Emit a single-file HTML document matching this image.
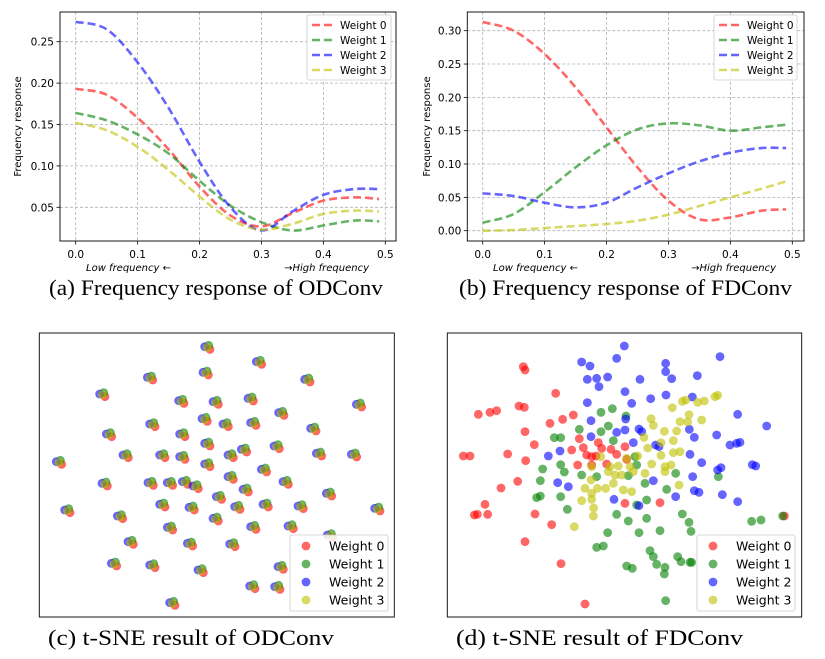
<!DOCTYPE html>
<html><head><meta charset="utf-8"><style>
body{margin:0;background:#fff;}
svg{display:block;font-family:"DejaVu Sans","Liberation Sans",sans-serif;}
</style></head><body>
<svg id="fig" width="825" height="659" viewBox="0 0 825 659" xmlns="http://www.w3.org/2000/svg"></svg>
<script>
// ---- line chart data ----
const freqX = [0,0.05,0.1,0.15,0.2,0.25,0.3,0.35,0.4,0.45,0.49];
const odW0 = [0.193,0.186,0.158,0.12,0.075,0.04,0.027,0.043,0.058,0.062,0.06];
const odW1 = [0.164,0.155,0.138,0.115,0.082,0.052,0.032,0.022,0.028,0.034,0.033];
const odW2 = [0.274,0.265,0.225,0.17,0.105,0.05,0.022,0.045,0.065,0.072,0.072];
const odW3 = [0.152,0.143,0.123,0.095,0.063,0.035,0.023,0.03,0.042,0.046,0.045];
const fdW0 = [0.313,0.30,0.265,0.215,0.155,0.095,0.045,0.017,0.02,0.03,0.032];
const fdW1 = [0.012,0.025,0.058,0.095,0.128,0.152,0.161,0.158,0.150,0.155,0.159];
const fdW2 = [0.056,0.052,0.042,0.035,0.042,0.065,0.086,0.104,0.117,0.124,0.124];
const fdW3 = [0,0.001,0.004,0.007,0.01,0.015,0.024,0.037,0.05,0.063,0.074];
const xTicks = [0,0.1,0.2,0.3,0.4,0.5];
const odYTicks = [0.05,0.10,0.15,0.20,0.25];
const fdYTicks = [0,0.05,0.10,0.15,0.20,0.25,0.30];
const weightNames = ["Weight 0","Weight 1","Weight 2","Weight 3"];
// ---- t-SNE data (arbitrary embedding units) ----
const odClusters = [[530,80],[685,125],[525,157],[358,172],[830,178],[215,222],[452,242],[555,245],[660,235],[985,253],[752,278],[365,312],[522,296],[585,312],[668,308],[848,325],[235,342],[455,342],[530,370],[640,388],[738,378],[865,400],[970,403],[85,425],[285,405],[395,405],[455,410],[530,432],[600,405],[700,448],[222,490],[360,488],[418,488],[463,485],[495,498],[600,470],[645,508],[765,485],[895,520],[565,530],[110,570],[268,588],[395,553],[483,562],[620,560],[705,553],[810,558],[1040,565],[418,622],[555,595],[668,620],[780,618],[898,645],[300,665],[478,670],[605,672],[250,730],[365,735],[510,750],[750,740],[665,798],[740,800],[425,848]];
const odOffW0 = [10,8]; const odOffW1 = [6,-4]; const odOffW2 = [-6,0]; const odOffW3 = [2,2];
const fdW0pts = [[265,140],[270,150],[362,220],[130,283],[165,277],[185,272],[252,258],[268,262],[85,408],[105,408],[218,402],[272,422],[298,374],[270,335],[345,310],[383,298],[415,285],[433,356],[410,390],[445,383],[455,405],[428,435],[470,435],[490,368],[500,385],[483,408],[515,432],[528,388],[545,403],[570,380],[575,418],[248,484],[198,504],[150,553],[118,585],[127,583],[158,583],[300,582],[350,614],[270,665],[378,731],[450,852],[570,550],[675,548],[470,410],[1048,588]];
const fdW1pts = [[498,277],[532,266],[573,288],[433,328],[498,335],[520,318],[535,362],[358,353],[377,353],[377,434],[388,456],[323,447],[316,482],[305,533],[316,528],[377,530],[397,568],[440,465],[485,470],[580,467],[605,435],[630,490],[600,410],[635,540],[605,555],[545,583],[580,603],[635,595],[612,638],[675,632],[695,508],[722,460],[742,582],[762,607],[768,634],[850,470],[518,638],[485,682],[505,678],[645,692],[655,710],[665,733],[690,742],[688,762],[728,710],[738,725],[765,727],[770,727],[575,738],[592,745],[692,842],[950,604],[978,600],[1043,588]];
const fdW2pts = [[568,78],[440,126],[465,138],[545,115],[692,130],[692,155],[710,176],[855,110],[787,167],[457,178],[485,175],[518,171],[492,200],[615,178],[570,215],[457,248],[590,250],[647,236],[693,225],[772,231],[572,297],[468,302],[545,337],[570,330],[612,327],[620,335],[468,350],[375,393],[340,408],[595,368],[662,375],[672,380],[763,328],[778,352],[845,345],[885,375],[905,370],[915,367],[908,283],[995,318],[765,403],[800,428],[848,450],[858,443],[952,434],[962,438],[773,470],[655,482],[368,488],[400,500],[537,538],[612,557],[722,530],[778,512],[792,517],[862,524],[908,545]];
const fdW3pts = [[742,244],[752,240],[788,247],[808,243],[840,230],[848,226],[712,263],[762,284],[735,305],[758,306],[800,300],[648,296],[655,316],[688,334],[725,333],[627,352],[638,384],[678,368],[715,362],[715,398],[735,395],[678,406],[608,408],[575,415],[650,432],[690,440],[708,435],[690,455],[470,440],[497,410],[525,440],[550,438],[520,455],[540,465],[585,440],[595,455],[630,460],[468,480],[487,505],[512,505],[535,490],[450,505],[470,520],[565,510],[590,515],[732,495],[440,542],[470,538],[476,564],[475,588],[418,620],[560,465]];

const NS="http://www.w3.org/2000/svg";
const svg=document.getElementById('fig');
const COLORS=["#ff0000","#008000","#0000ff","#bfbf00"];
function mk(tag,attrs,parent){const e=document.createElementNS(NS,tag);for(const k in attrs)e.setAttribute(k,attrs[k]);(parent||svg).appendChild(e);return e;}
function txt(s,attrs,parent){const e=mk('text',attrs,parent);e.textContent=s;return e;}
function smoothPath(pts){
  let d="M"+pts[0][0]+","+pts[0][1];
  for(let i=0;i<pts.length-1;i++){
    const p0=pts[Math.max(0,i-1)],p1=pts[i],p2=pts[i+1],p3=pts[Math.min(pts.length-1,i+2)];
    const c1=[p1[0]+(p2[0]-p0[0])/6,p1[1]+(p2[1]-p0[1])/6];
    const c2=[p2[0]-(p3[0]-p1[0])/6,p2[1]-(p3[1]-p1[1])/6];
    d+=` C${c1[0]},${c1[1]} ${c2[0]},${c2[1]} ${p2[0]},${p2[1]}`;
  }
  return d;
}
function lineChart(cfg){
  const g=mk('g',{});
  
  
  const sx=v=>cfg.x0+(v-0)*(cfg.x5-cfg.x0)/0.5;
  const sy=v=>cfg.yA+(v-cfg.vA)*(cfg.yB-cfg.yA)/(cfg.vB-cfg.vA);
  // grid
  xTicks.forEach(t=>{
    const l=mk('line',{x1:sx(t),x2:sx(t),y1:cfg.top,y2:cfg.bottom,stroke:"#b0b0b0","stroke-width":0.8,"stroke-dasharray":"3,2"},g);
    
    
    mk('line',{x1:sx(t),x2:sx(t),y1:cfg.bottom,y2:cfg.bottom+3.5,stroke:"#000","stroke-width":0.8},g);
    const tl=txt(t.toFixed(1),{x:sx(t),y:cfg.bottom+17,"font-size":10.5,"text-anchor":"middle",fill:"#000"},g);
    
    
  });
  cfg.yTicks.forEach(t=>{
    mk('line',{x1:cfg.left,x2:cfg.right,y1:sy(t),y2:sy(t),stroke:"#b0b0b0","stroke-width":0.8,"stroke-dasharray":"3,2"},g);
    mk('line',{x1:cfg.left-3.5,x2:cfg.left,y1:sy(t),y2:sy(t),stroke:"#000","stroke-width":0.8},g);
    const tl=txt(t.toFixed(2),{x:cfg.left-6,y:sy(t)+4,"font-size":10.5,"text-anchor":"end",fill:"#000"},g);
    
    
  });
  // series
  cfg.series.forEach((s,i)=>{
    const pts=freqX.map((x,j)=>[sx(x),sy(s[j])]);
    const p=mk('path',{d:smoothPath(pts),fill:"none",stroke:COLORS[i],"stroke-opacity":0.6,"stroke-width":2.6,"stroke-dasharray":"8,4"},g);
    
    
  });
  const fr=mk('rect',{x:cfg.left,y:cfg.top,width:cfg.right-cfg.left,height:cfg.bottom-cfg.top,fill:"none",stroke:"#000","stroke-width":0.9},g);
  
  
  // y label
  const yl=txt("Frequency response",{x:0,y:0,"font-size":10,"text-anchor":"middle",transform:`translate(${cfg.ylabX},${(cfg.top+cfg.bottom)/2}) rotate(-90)`},g);
  
  
  const lo=txt("Low frequency \u2190",{x:cfg.lowX,y:271,"font-size":10,"font-style":"italic"},g);
  
  
  const hi=txt("\u2192High frequency",{x:cfg.hiX,y:271,"font-size":10,"font-style":"italic","text-anchor":"end"},g);
  
  
  // legend
  const lg=mk('g',{},g);
  
  
  mk('rect',{x:cfg.legX,y:15,width:cfg.legW,height:65,rx:2,fill:"#fff","fill-opacity":0.85,stroke:"#ccc","stroke-width":0.8},lg);
  weightNames.forEach((n,i)=>{
    const y=25+i*15;
    mk('line',{x1:cfg.legX+5,x2:cfg.legX+26,y1:y,y2:y,stroke:COLORS[i],"stroke-opacity":0.6,"stroke-width":2.6,"stroke-dasharray":"8,4"},lg);
    const t=txt(n,{x:cfg.legX+33,y:y+4,"font-size":10.5},lg);
    
    
  });
}
lineChart({name:"odconv-frequency-chart",left:60,right:396,top:12,bottom:241,x0:75.7,x5:385.3,yA:41.7,vA:0.25,yB:207.3,vB:0.05,yTicks:odYTicks,series:[odW0,odW1,odW2,odW3],ylabX:21,lowX:86,hiX:369,legX:307,legW:84});
lineChart({name:"fdconv-frequency-chart",left:467.3,right:804,top:12,bottom:241,x0:482.7,x5:792.3,yA:30.7,vA:0.30,yB:230.7,vB:0,yTicks:fdYTicks,series:[fdW0,fdW1,fdW2,fdW3],ylabX:430,lowX:493,hiX:776,legX:714,legW:83});

function scatterPanel(name,ox,seriesList,left,right){
  const g=mk('g',{});
  
  
  const sx=v=>ox+v/3, sy=v=>320+v/3;
  mk('rect',{x:left,y:333,width:right-left,height:284,fill:"#fff",stroke:"#000","stroke-width":0.9},g);
  seriesList.forEach((pts,i)=>{
    pts.forEach(p=>{
      const c=mk('circle',{cx:sx(p[0]),cy:sy(p[1]),r:4.4,fill:COLORS[i],"fill-opacity":0.6},g);
      
      
    });
  });
  const lx=ox+(ox<100?260:262);
  const lg=mk('g',{},g);
  
  
  mk('rect',{x:lx,y:535,width:98,height:76,rx:2,fill:"#fff","fill-opacity":0.85,stroke:"#ccc","stroke-width":0.8},lg);
  weightNames.forEach((n,i)=>{
    const y=546+i*18;
    mk('circle',{cx:lx+16,cy:y,r:4.4,fill:COLORS[i],"fill-opacity":0.6},lg);
    const t=txt(n,{x:lx+39,y:y+4.5,"font-size":12.5},lg);
    
    
  });
}
const odSeries=[odOffW0,odOffW1,odOffW2,odOffW3].map(o=>odClusters.map(c=>[c[0]+o[0],c[1]+o[1]]));
scatterPanel("odconv-tsne-chart",30,odSeries,39.3,394.3);
scatterPanel("fdconv-tsne-chart",435,[fdW0pts,fdW1pts,fdW2pts,fdW3pts],447.3,801.7);

// captions
[["(a) Frequency response of ODConv",49,295,334,"caption-a"],["(b) Frequency response of FDConv",459,295,333,"caption-b"],["(c) t-SNE result of ODConv",48,645,286,"caption-c"],["(d) t-SNE result of FDConv",456,645,287,"caption-d"]].forEach(c=>{
  const t=txt(c[0],{x:c[1],y:c[2],"font-size":22,"font-family":"Liberation Serif,serif",textLength:c[3],lengthAdjust:"spacingAndGlyphs"});
  
  
});
</script>
</body></html>
